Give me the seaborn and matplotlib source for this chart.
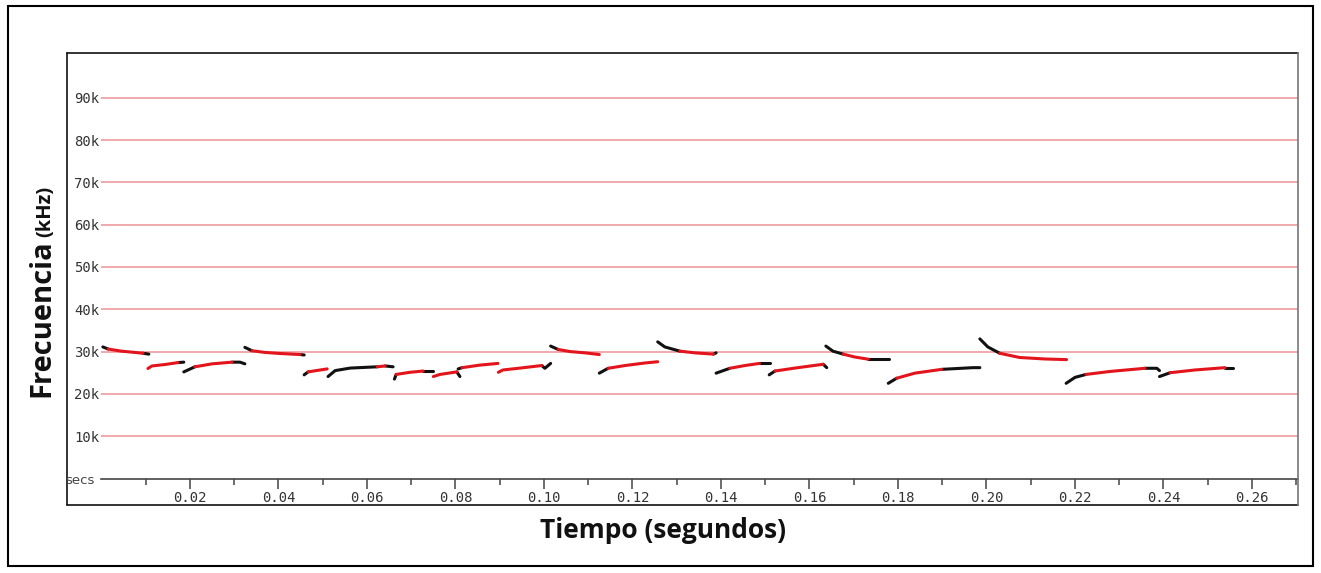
import matplotlib
matplotlib.use("Agg")
import matplotlib.pyplot as plt
import numpy as np
import pandas as pd
import seaborn as sns
from matplotlib.lines import Line2D
from matplotlib.patches import Rectangle

# ---- call traces: time (s), frequency (kHz), colour per piece (k = black, r = red)
call_times = [
    [0.0003, 0.0015, 0.0045, 0.0075, 0.0094, 0.0107],
    [0.0105, 0.0114, 0.0144, 0.0173, 0.0186],
    [0.0186, 0.0211, 0.0250, 0.0295, 0.0313, 0.0324],
    [0.0324, 0.0340, 0.0369, 0.0403, 0.0449, 0.0458],
    [0.0458, 0.0467, 0.0485, 0.0510],
    [0.0512, 0.0528, 0.0562, 0.0623, 0.0641, 0.0659],
    [0.0662, 0.0666, 0.0697, 0.0727, 0.0749],
    [0.0750, 0.0765, 0.0803, 0.0810],
    [0.0806, 0.0815, 0.0855, 0.0896],
    [0.0897, 0.0907, 0.0946, 0.0995, 0.1002, 0.1015],
    [0.1015, 0.1032, 0.1059, 0.1093, 0.1125],
    [0.1125, 0.1145, 0.1183, 0.1228, 0.1257],
    [0.1257, 0.1273, 0.1307, 0.1341, 0.1383, 0.1389],
    [0.1389, 0.1420, 0.1454, 0.1487, 0.1511],
    [0.1509, 0.1522, 0.1567, 0.1631, 0.1639],
    [0.1637, 0.1653, 0.1676, 0.1703, 0.1733, 0.1780],
    [0.1778, 0.1797, 0.1838, 0.1899, 0.1970, 0.1985],
    [0.1985, 0.2003, 0.2030, 0.2075, 0.2132, 0.2181],
    [0.2180, 0.2200, 0.2225, 0.2279, 0.2358, 0.2385, 0.2391],
    [0.2391, 0.2415, 0.2471, 0.2539, 0.2556],
]
call_freqs = [
    [31.1, 30.6, 30.1, 29.8, 29.6, 29.4],
    [26.0, 26.6, 26.95, 27.4, 27.5],
    [25.2, 26.4, 27.1, 27.5, 27.5, 27.1],
    [31.0, 30.2, 29.8, 29.55, 29.3, 29.2],
    [24.5, 25.2, 25.5, 25.9],
    [24.1, 25.5, 26.1, 26.4, 26.6, 26.4],
    [23.5, 24.6, 25.1, 25.4, 25.4],
    [24.1, 24.6, 25.2, 24.1],
    [25.9, 26.2, 26.8, 27.2],
    [25.1, 25.65, 26.1, 26.7, 26.05, 27.2],
    [31.3, 30.5, 30.0, 29.7, 29.3],
    [24.9, 26.05, 26.7, 27.3, 27.6],
    [32.3, 31.1, 30.1, 29.7, 29.4, 29.7],
    [24.9, 26.05, 26.7, 27.2, 27.2],
    [24.5, 25.4, 26.1, 27.0, 26.2],
    [31.3, 30.1, 29.4, 28.7, 28.2, 28.2],
    [22.5, 23.7, 24.9, 25.8, 26.2, 26.2],
    [33.0, 31.1, 29.6, 28.6, 28.25, 28.1],
    [22.5, 23.9, 24.6, 25.3, 26.05, 26.05, 25.5],
    [24.1, 25.0, 25.65, 26.2, 26.2],
]
call_colours = [
    "krrrk", "rrrk", "krrkk", "krrrk", "krr", "kkkrk", "krrk", "rrk", "krr",
    "rrrkk", "krrr", "krrr", "kkrrk", "krrk", "krrk", "kkrrk", "krrkk",
    "kkrrr", "kkrrkk", "krrk",
]

y_ticks = [10, 20, 30, 40, 50, 60, 70, 80, 90]
y_tick_labels = ["10k", "20k", "30k", "40k", "50k", "60k", "70k", "80k", "90k"]
x_ticks = [0.02, 0.04, 0.06, 0.08, 0.10, 0.12, 0.14, 0.16, 0.18, 0.20, 0.22, 0.24, 0.26]
x_tick_labels = ["0.02", "0.04", "0.06", "0.08", "0.10", "0.12", "0.14",
                 "0.16", "0.18", "0.20", "0.22", "0.24", "0.26"]
x_minor = [0.01, 0.03, 0.05, 0.07, 0.09, 0.11, 0.13, 0.15, 0.17, 0.19, 0.21,
           0.23, 0.25, 0.27]

# split every call into runs of equal colour
rows = []
seg = 0
for ts, fs, cs in zip(call_times, call_freqs, call_colours):
    i = 0
    while i < len(cs):
        j = i
        while j + 1 < len(cs) and cs[j + 1] == cs[i]:
            j += 1
        for k in range(i, j + 2):
            rows.append({"seg": seg, "t": ts[k], "f": fs[k], "kind": cs[i], "order": k})
        seg += 1
        i = j + 1
df = pd.DataFrame(rows)

sns.set_style("white")

W, H = 1321, 573
fig = plt.figure(figsize=(W / 100, H / 100), dpi=100)
fig.patch.set_facecolor("white")


def fx(px):
    return px / W


def fy(py):
    return 1 - py / H


left, right, top, bottom = 101.5, 1298, 53.3, 478.5
ax = fig.add_axes([fx(left), fy(bottom), fx(right) - fx(left), fy(top) - fy(bottom)])

sns.lineplot(data=df, x="t", y="f", units="seg", hue="kind",
             palette={"k": "#111111", "r": "#e3141b"}, estimator=None,
             sort=False, legend=False, lw=2.2, ax=ax,
             solid_capstyle="round")

ax.set_xlim(0, 0.2704)
ax.set_ylim(0, 100.5)
ax.set_yticks(y_ticks)
ax.set_yticklabels(y_tick_labels, family="DejaVu Sans Mono", fontsize=10, color="#333333")
ax.set_xticks(x_ticks)
ax.set_xticklabels(x_tick_labels, family="DejaVu Sans Mono", fontsize=10, color="#333333")
ax.set_xticks(x_minor, minor=True)
ax.set_xlabel("")
ax.set_ylabel("")
ax.yaxis.grid(True, color="#eea3a6", lw=1.3)
ax.xaxis.grid(False)
ax.tick_params(axis="y", length=0, pad=1.5)
ax.tick_params(axis="x", which="major", length=7, width=1.1, direction="out",
               pad=2, color="#444444", bottom=True)
ax.tick_params(axis="x", which="minor", length=4, width=1.1, direction="out",
               color="#444444", bottom=True)
for side in ("left", "right", "top"):
    ax.spines[side].set_visible(False)
ax.spines["bottom"].set_color("#444444")
ax.spines["bottom"].set_linewidth(1.2)
ax.set_facecolor("none")

# inner frame around the plot panel
bx0, bx1, by0, by1 = 67, 1298, 53.3, 505
fig.add_artist(Line2D([fx(bx0), fx(bx1)], [fy(by0), fy(by0)], color="#111111", lw=1.2))
fig.add_artist(Line2D([fx(bx0), fx(bx1)], [fy(by1), fy(by1)], color="#111111", lw=1.2))
fig.add_artist(Line2D([fx(bx0), fx(bx0)], [fy(by0), fy(by1)], color="#111111", lw=1.2))
fig.add_artist(Line2D([fx(bx1), fx(bx1)], [fy(by0), fy(by1)], color="#777777", lw=1.2))

fig.text(fx(65), fy(481), "secs", fontsize=9.5, color="#444444",
         ha="left", va="center", family="DejaVu Sans")

# outer border
fig.add_artist(Rectangle((fx(8), fy(566)), fx(1313) - fx(8), fy(6) - fy(566),
                         fill=False, edgecolor="#000000", lw=1.5,
                         transform=fig.transFigure))

fig.text(fx(663), fy(531), "Tiempo (segundos)", fontsize=19, fontweight="bold",
         family="Open Sans", ha="center", va="center", color="#111111")
fig.text(fx(42), fy(397), "Frecuencia", fontsize=21, fontweight="bold",
         family="Open Sans", rotation=90, ha="center", va="bottom", color="#111111")
fig.text(fx(45), fy(237), "(kHz)", fontsize=14.5, fontweight="bold",
         family="Open Sans", rotation=90, ha="center", va="bottom", color="#111111")

fig.savefig("out.png", dpi=100)
